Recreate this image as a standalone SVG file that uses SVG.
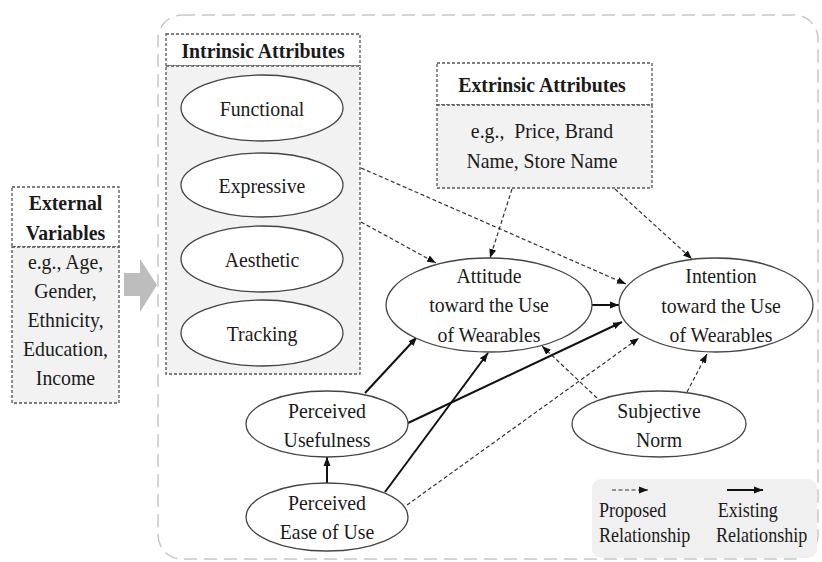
<svg xmlns="http://www.w3.org/2000/svg" width="822" height="562" viewBox="0 0 822 562">
<defs>
<style>
text{font-family:'Liberation Serif','Times New Roman',serif}
.t{font-size:22px;fill:#1a1a1a;text-anchor:middle}
.b{font-weight:bold}
.lg{font-size:21px;fill:#1a1a1a}
.el{fill:#fff;stroke:#444;stroke-width:1.3}
.box{stroke:#555;stroke-width:1.3;stroke-dasharray:3 2}
.dash{fill:none;stroke:#333;stroke-width:1.2;stroke-dasharray:4 2.5}
.solid{fill:none;stroke:#111;stroke-width:2}
</style>
<marker id="ah" markerUnits="userSpaceOnUse" markerWidth="9" markerHeight="8" refX="9" refY="4" orient="auto">
<path d="M0,0.5 L9,4 L0,7.5 z" fill="#111"/>
</marker>
</defs>
<rect width="822" height="562" fill="#fff"/>
<rect id="frame" x="158" y="15" width="660" height="544" rx="24" fill="none" stroke="#c8c8c8" stroke-width="1.5" stroke-dasharray="13 7"/>

<g id="external" font-family="Liberation Serif, serif">
<rect x="12" y="187" width="107" height="60" fill="#fff" class="box"/>
<rect x="12" y="247" width="107" height="156" fill="#f2f2f2" class="box"/>
<g transform="translate(65.5 0) scale(0.9 1)">
<text class="t b" x="0" y="210">External</text>
<text class="t b" x="0" y="240">Variables</text>
<text class="t" x="0" y="269">e.g., Age,</text>
<text class="t" x="0" y="298">Gender,</text>
<text class="t" x="0" y="327">Ethnicity,</text>
<text class="t" x="0" y="356">Education,</text>
<text class="t" x="0" y="385">Income</text>
</g>
</g>

<g id="bigarrow">
<path d="M124,273 L140,273 L140,259 L157,285 L140,312 L140,296 L124,296 z" fill="#bdbdbd"/>
</g>

<g id="intrinsic">
<rect x="166" y="34" width="194" height="32" fill="#fff" class="box"/>
<rect x="166" y="66" width="194" height="308" fill="#f2f2f2" class="box"/>
<g transform="translate(263 0) scale(0.9 1)"><text class="t b" x="0" y="58">Intrinsic Attributes</text></g>
</g>
<g id="functional"><ellipse class="el" cx="262" cy="108" rx="81" ry="33"/><g transform="translate(262 0) scale(0.9 1)"><text class="t" x="0" y="116">Functional</text></g></g>
<g id="expressive"><ellipse class="el" cx="262" cy="185" rx="81" ry="32"/><g transform="translate(262 0) scale(0.9 1)"><text class="t" x="0" y="193">Expressive</text></g></g>
<g id="aesthetic"><ellipse class="el" cx="262" cy="259" rx="81" ry="33"/><g transform="translate(262 0) scale(0.9 1)"><text class="t" x="0" y="267">Aesthetic</text></g></g>
<g id="tracking"><ellipse class="el" cx="262" cy="333" rx="81" ry="33"/><g transform="translate(262 0) scale(0.9 1)"><text class="t" x="0" y="341">Tracking</text></g></g>

<g id="extrinsic">
<rect x="437" y="63" width="215" height="42" fill="#fff" class="box"/>
<rect x="437" y="105" width="215" height="83" fill="#f2f2f2" class="box"/>
<g transform="translate(542 0) scale(0.9 1)">
<text class="t b" x="0" y="92">Extrinsic Attributes</text>
<text class="t" x="0" y="138" xml:space="preserve">e.g.,  Price, Brand</text>
<text class="t" x="0" y="168">Name, Store Name</text>
</g>
</g>

<g id="connectors">
<line class="dash" x1="361" y1="168" x2="626" y2="284" marker-end="url(#ah)"/>
<line class="dash" x1="361" y1="222" x2="436" y2="263" marker-end="url(#ah)"/>
<line class="dash" x1="512" y1="189" x2="490" y2="258" marker-end="url(#ah)"/>
<line class="dash" x1="615" y1="189" x2="692" y2="259" marker-end="url(#ah)"/>
<line class="dash" x1="597" y1="398" x2="542" y2="346" marker-end="url(#ah)"/>
<line class="dash" x1="687" y1="392" x2="707" y2="354" marker-end="url(#ah)"/>
<line class="dash" x1="407" y1="505" x2="639" y2="338" marker-end="url(#ah)"/>
<line class="solid" x1="592" y1="305" x2="619" y2="305" marker-end="url(#ah)"/>
<line class="solid" x1="408" y1="423" x2="622" y2="322" marker-end="url(#ah)"/>
<line class="solid" x1="365" y1="393" x2="417" y2="337" marker-end="url(#ah)"/>
<line class="solid" x1="385" y1="492" x2="488" y2="353" marker-end="url(#ah)"/>
<line class="solid" x1="327" y1="483" x2="327" y2="457" marker-end="url(#ah)"/>
</g>

<g id="attitude"><ellipse class="el" cx="489" cy="305" rx="103" ry="47"/><g transform="translate(489 0) scale(0.9 1)">
<text class="t" x="0" y="283">Attitude</text><text class="t" x="0" y="312">toward the Use</text><text class="t" x="0" y="342">of Wearables</text></g></g>
<g id="intention"><ellipse class="el" cx="716" cy="305" rx="97" ry="47"/><g transform="translate(721 0) scale(0.9 1)">
<text class="t" x="0" y="283">Intention</text><text class="t" x="0" y="313">toward the Use</text><text class="t" x="0" y="342">of Wearables</text></g></g>
<g id="usefulness"><ellipse class="el" cx="327" cy="424" rx="81" ry="33"/><g transform="translate(327 0) scale(0.9 1)">
<text class="t" x="0" y="418">Perceived</text><text class="t" x="0" y="447">Usefulness</text></g></g>
<g id="easeofuse"><ellipse class="el" cx="327" cy="517" rx="81" ry="34"/><g transform="translate(327 0) scale(0.9 1)">
<text class="t" x="0" y="510">Perceived</text><text class="t" x="0" y="539">Ease of Use</text></g></g>
<g id="subjective"><ellipse class="el" cx="659" cy="424" rx="87" ry="33"/><g transform="translate(659 0) scale(0.9 1)">
<text class="t" x="0" y="418">Subjective</text><text class="t" x="0" y="447">Norm</text></g></g>

<g id="legend">
<rect x="592" y="479" width="225" height="79" rx="9" fill="#f0f0f0"/>
<line class="dash" x1="612" y1="490" x2="648" y2="490" marker-end="url(#ah)"/>
<line class="solid" x1="727" y1="490" x2="763" y2="490" marker-end="url(#ah)"/>
<g transform="translate(599 0) scale(0.86 1)"><text class="lg" x="0" y="517">Proposed</text><text class="lg" x="0" y="542">Relationship</text></g>
<g transform="translate(716 0) scale(0.86 1)"><text class="lg" x="2" y="517">Existing</text><text class="lg" x="0" y="542">Relationship</text></g>
</g>
</svg>
